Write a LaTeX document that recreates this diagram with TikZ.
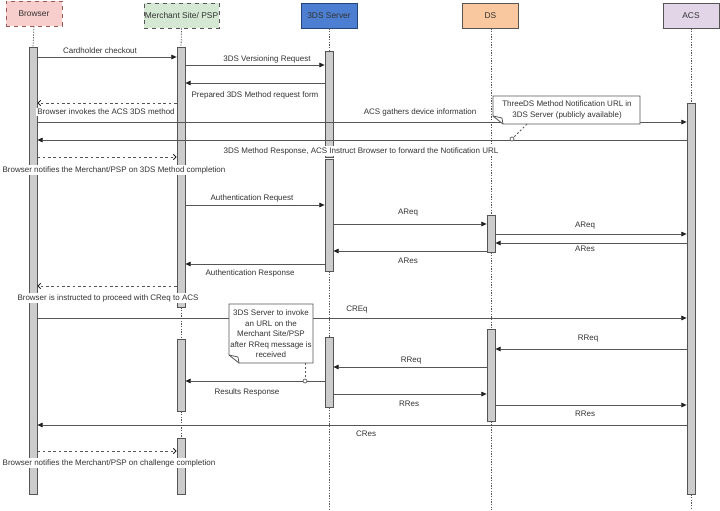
\documentclass[tikz,border=0pt]{standalone}
\usepackage{fontspec}
\setmainfont{Liberation Sans}
\usetikzlibrary{arrows.meta,calc}
\definecolor{lineC}{HTML}{555555}
\definecolor{tipC}{HTML}{222222}
\definecolor{txtC}{HTML}{333333}
\definecolor{barC}{HTML}{CCCCCC}
\definecolor{brF}{HTML}{F8CECC}
\definecolor{brD}{HTML}{9A5A58}
\definecolor{msF}{HTML}{D5E8D4}
\definecolor{svF}{HTML}{4C7FD1}
\definecolor{svD}{HTML}{23457A}
\definecolor{dsF}{HTML}{FAC89E}
\definecolor{acF}{HTML}{E1D5E7}
\newcommand\actbar[4]{\node[bar, minimum height={(#4-#3)*0.75pt}] (#1) at (#2,{(#3+#4)/2}) {};}
\begin{document}
\begin{tikzpicture}[x=0.75pt,y=-0.75pt,
  font=\fontsize{6}{7.5}\selectfont, text=txtC,
  hdr/.style={draw=lineC, line width=0.6pt, minimum width=42pt, minimum height=18.75pt, inner sep=0pt, font=\fontsize{6.3}{7.5}\selectfont},
  bar/.style={draw=lineC, fill=barC, line width=0.6pt, minimum width=6pt, inner sep=0pt},
  life/.style={draw=lineC, line width=0.6pt, dash pattern=on 1pt off 1pt},
  msg/.style={draw=lineC, line width=0.6pt, -{Triangle[length=4pt,width=3.5pt,color=tipC]}},
  ret/.style={draw=lineC, line width=0.6pt, dash pattern=on 2pt off 2pt, -{Straight Barb[length=2pt,width=4pt,color=tipC]}},
  lbl/.style={fill=white, inner sep=0.8pt},
  notebox/.style={draw=lineC, fill=white, line width=0.6pt},
  notetxt/.style={align=center, inner sep=0pt, font=\fontsize{6}{7.9}\selectfont},
  dotc/.style={circle, draw=lineC, fill=white, line width=0.5pt, minimum size=3pt, inner sep=0pt},
  conn/.style={draw=lineC, line width=0.6pt, dash pattern=on 1.5pt off 1.5pt}
]
\useasboundingbox (0,0) rectangle (720,510);

% headers
\node[hdr, fill=brF, draw=brD, dashed, minimum width=42pt] (hB) at (34,13.5) {Browser};
\node[hdr, fill=msF, dashed, minimum width=56.25pt] (hM) at (181.5,15.5) {Merchant Site/ PSP};
\node[hdr, fill=svF, draw=svD] (hS) at (329,15.5) {3DS Server};
\node[hdr, fill=dsF] (hD) at (490.5,15.5) {DS};
\node[hdr, fill=acF] (hA) at (691,15.5) {ACS};

% activation bars
\actbar{bB}{33}{47}{494}
\actbar{bM1}{181}{47}{307}
\actbar{bM2}{181}{339}{411}
\actbar{bM3}{181}{438}{494}
\actbar{bS1}{329}{51}{157}
\actbar{bS2}{329}{159}{271}
\actbar{bS3}{329}{337}{407}
\actbar{bD1}{491}{215}{252}
\actbar{bD2}{491}{329}{421}
\actbar{bA}{691}{103}{494}

% lifelines
\draw[life] (hB.south) -- (bB.north);
\draw[life] (hM.south) -- (bM1.north);
\draw[life] (bM1.south) -- (bM2.north);
\draw[life] (bM2.south) -- (bM3.north);
\draw[life] (hS.south) -- (bS1.north);
\draw[life] (bS2.south) -- (bS3.north);
\draw[life] (bS3.south) -- (329,510);
\draw[life] (hD.south -| bD1.north) -- (bD1.north);
\draw[life] (bD1.south) -- (bD2.north);
\draw[life] (bD2.south) -- (491,510);
\draw[life] (hA.south) -- (bA.north);
\draw[life] (bA.south) -- (691,510);

% messages
\draw[msg] (bB.east |- 0,57) -- (bM1.west |- 0,57);
\draw[msg] (bM1.east |- 0,65) -- (bS1.west |- 0,65);
\draw[msg] (bS1.west |- 0,83) -- (bM1.east |- 0,83);
\draw[ret] (bM1.west |- 0,103) -- (bB.east |- 0,103);
\draw[msg] (bB.east |- 0,122) -- (bA.west |- 0,122);
\draw[msg] (bA.west |- 0,140) -- (bB.east |- 0,140);
\draw[ret] (bB.east |- 0,157) -- (bM1.west |- 0,157);
\draw[msg] (bM1.east |- 0,205) -- (bS2.west |- 0,205);
\draw[msg] (bS2.east |- 0,224) -- (bD1.west |- 0,224);
\draw[msg] (bD1.east |- 0,234) -- (bA.west |- 0,234);
\draw[msg] (bA.west |- 0,243) -- (bD1.east |- 0,243);
\draw[msg] (bD1.west |- 0,251) -- (bS2.east |- 0,251);
\draw[msg] (bS2.west |- 0,264) -- (bM1.east |- 0,264);
\draw[ret] (bM1.west |- 0,286) -- (bB.east |- 0,286);
\draw[msg] (bB.east |- 0,318) -- (bA.west |- 0,318);
\draw[msg] (bA.west |- 0,349) -- (bD2.east |- 0,349);
\draw[msg] (bD2.west |- 0,367) -- (bS3.east |- 0,367);
\draw[msg] (bS3.west |- 0,381) -- (bM2.east |- 0,381);
\draw[msg] (bS3.east |- 0,394) -- (bD2.west |- 0,394);
\draw[msg] (bD2.east |- 0,405) -- (bA.west |- 0,405);
\draw[msg] (bA.west |- 0,425) -- (bB.east |- 0,425);
\draw[ret] (bB.east |- 0,451) -- (bM3.west |- 0,451);

% labels
\node[lbl] (l1) at (100,51) {Cardholder checkout};
\node[lbl] (l2) at (267,59) {3DS Versioning Request};
\node[lbl] (l3) at (255,95) {Prepared 3DS Method request form};
\node[lbl] (l4) at (106,112) {Browser invokes the ACS 3DS method};
\node[lbl] (l5) at (420,112) {ACS gathers device information};
\node[lbl] (l6) at (361,151) {3DS Method Response, ACS Instruct Browser to forward the Notification URL};
\node[lbl] (l7) at (114,170) {Browser notifies the Merchant/PSP on 3DS Method completion};
\node[lbl] (l8) at (252,198) {Authentication Request};
\node[lbl] (l9) at (408,213) {AReq};
\node[lbl] (l10) at (585,226) {AReq};
\node[lbl] (l11) at (585,249) {ARes};
\node[lbl] (l12) at (408,261) {ARes};
\node[lbl] (l13) at (250,273) {Authentication Response};
\node[lbl] (l14) at (108,298) {Browser is instructed to proceed with CReq to ACS};
\node[lbl] (l15) at (357,310) {CREq};
\node[lbl] (l16) at (588,339) {RReq};
\node[lbl] (l17) at (411,361) {RReq};
\node[lbl] (l18) at (247,392) {Results Response};
\node[lbl] (l19) at (409,404) {RRes};
\node[lbl] (l20) at (585,414) {RRes};
\node[lbl] (l21) at (366,434) {CRes};
\node[lbl] (l22) at (109,463) {Browser notifies the Merchant/PSP on challenge completion};

% note 1
\node[dotc] (c1) at (512,139) {};
\draw[conn] (527,124) -- (c1);
\draw[notebox] (493,96) -- (640,96) -- (640,124) -- (503,124) -- (493,116) -- cycle;
\draw[lineC, line width=0.6pt] (493,116) -- (502,118) -- (503,124);
\node[notetxt] (n1) at (567,110) {ThreeDS Method Notification URL in\\3DS Server (publicly available)};

% note 2
\node[dotc] (c2) at (305,381) {};
\draw[conn] (305,363) -- (c2);
\draw[notebox] (229,304) -- (313,304) -- (313,363) -- (239,363) -- (229,355) -- cycle;
\draw[lineC, line width=0.6pt] (229,355) -- (238,357) -- (239,363);
\node[notetxt] (n2) at (271,334) {3DS Server to invoke\\an URL on the\\Merchant Site/PSP\\after RReq message is\\received};
\end{tikzpicture}
\end{document}
